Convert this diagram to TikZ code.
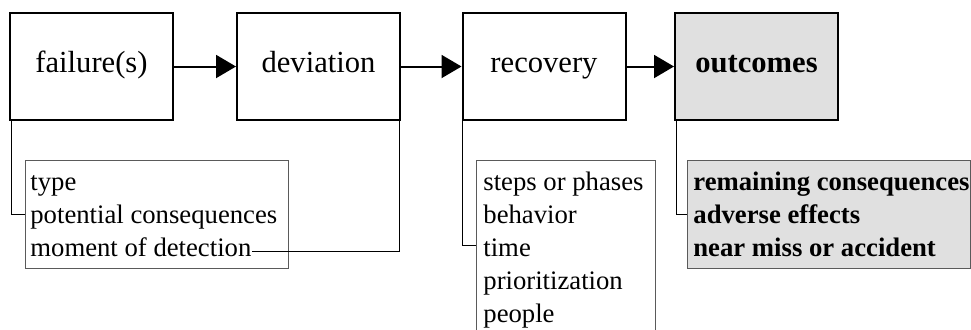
\documentclass[tikz,border=0pt]{standalone}
\usepackage{fontspec}
\setmainfont{Liberation Serif}
\usetikzlibrary{arrows.meta}
\definecolor{shade}{HTML}{E0E0E0}
\definecolor{rim}{HTML}{5A5A5A}
\begin{document}
\begin{tikzpicture}[x=0.5pt,y=-0.5pt,
  stage/.style={draw=black,line width=1pt,minimum width=81.5pt,minimum height=53.5pt,
    inner sep=0pt,text height=0.7em,text depth=0.08em,font=\fontsize{15.3}{18}\selectfont},
  detail/.style={draw=rim,line width=0.5pt,inner sep=0pt},
  item/.style={anchor=base west,inner sep=0pt,font=\fontsize{13.35}{16}\selectfont},
  bolditem/.style={item,font=\fontsize{13.35}{16}\selectfont\bfseries},
  flow/.style={line width=1pt,-{Triangle[length=10pt,width=11.5pt]}},
  conn/.style={line width=0.5pt,draw=black}]
\useasboundingbox (0,0) rectangle (971,329);
\clip (0,0) rectangle (971,329);

% main chain of stages
\node[stage] (b1) at (91.5,66.5) {failure(s)};
\node[stage] (b2) at (318.5,66.5) {deviation};
\node[stage] (b3) at (544,66.5) {recovery};
\node[stage,fill=shade,font=\fontsize{15.3}{18}\selectfont\bfseries] (b4) at (756.5,66.5) {outcomes};

\draw[flow] (b1.east) -- (b2.west);
\draw[flow] (b2.east) -- (b3.west);
\draw[flow] (b3.east) -- (b4.west);

% attribute boxes
\node[detail,minimum width=131.5pt,minimum height=54pt] (d1) at (156.5,214) {};
\node[detail,minimum width=89.5pt,minimum height=85pt] (d3) at (565.5,245) {};
\node[detail,fill=shade,minimum width=141.5pt,minimum height=54pt] (d4) at (828.5,214) {};

\node[item] (t11) at (30,190) {type};
\node[item] (t12) at (30,223) {potential consequences};
\node[item] (t13) at (30,256) {moment of detection};

\node[item] (t31) at (483,190) {steps or phases};
\node[item] (t32) at (483,223) {behavior};
\node[item] (t33) at (483,256) {time};
\node[item] (t34) at (483,289) {prioritization};
\node[item] (t35) at (483,322) {people};

\node[bolditem] (t41) at (693,190) {remaining consequences};
\node[bolditem] (t42) at (693,223) {adverse effects};
\node[bolditem] (t43) at (693,256) {near miss or accident};

% links from stages to their attributes
\draw[conn] ([xshift=1pt]b1.south west) |- (d1.west);
\draw[conn] ([xshift=-1pt]b2.south east) |- ([yshift=2.4pt]t13.base east);
\draw[conn] ([xshift=0.5pt]b3.south west) |- (d3.west);
\draw[conn] ([xshift=1pt]b4.south west) |- (d4.west);
\end{tikzpicture}
\end{document}
